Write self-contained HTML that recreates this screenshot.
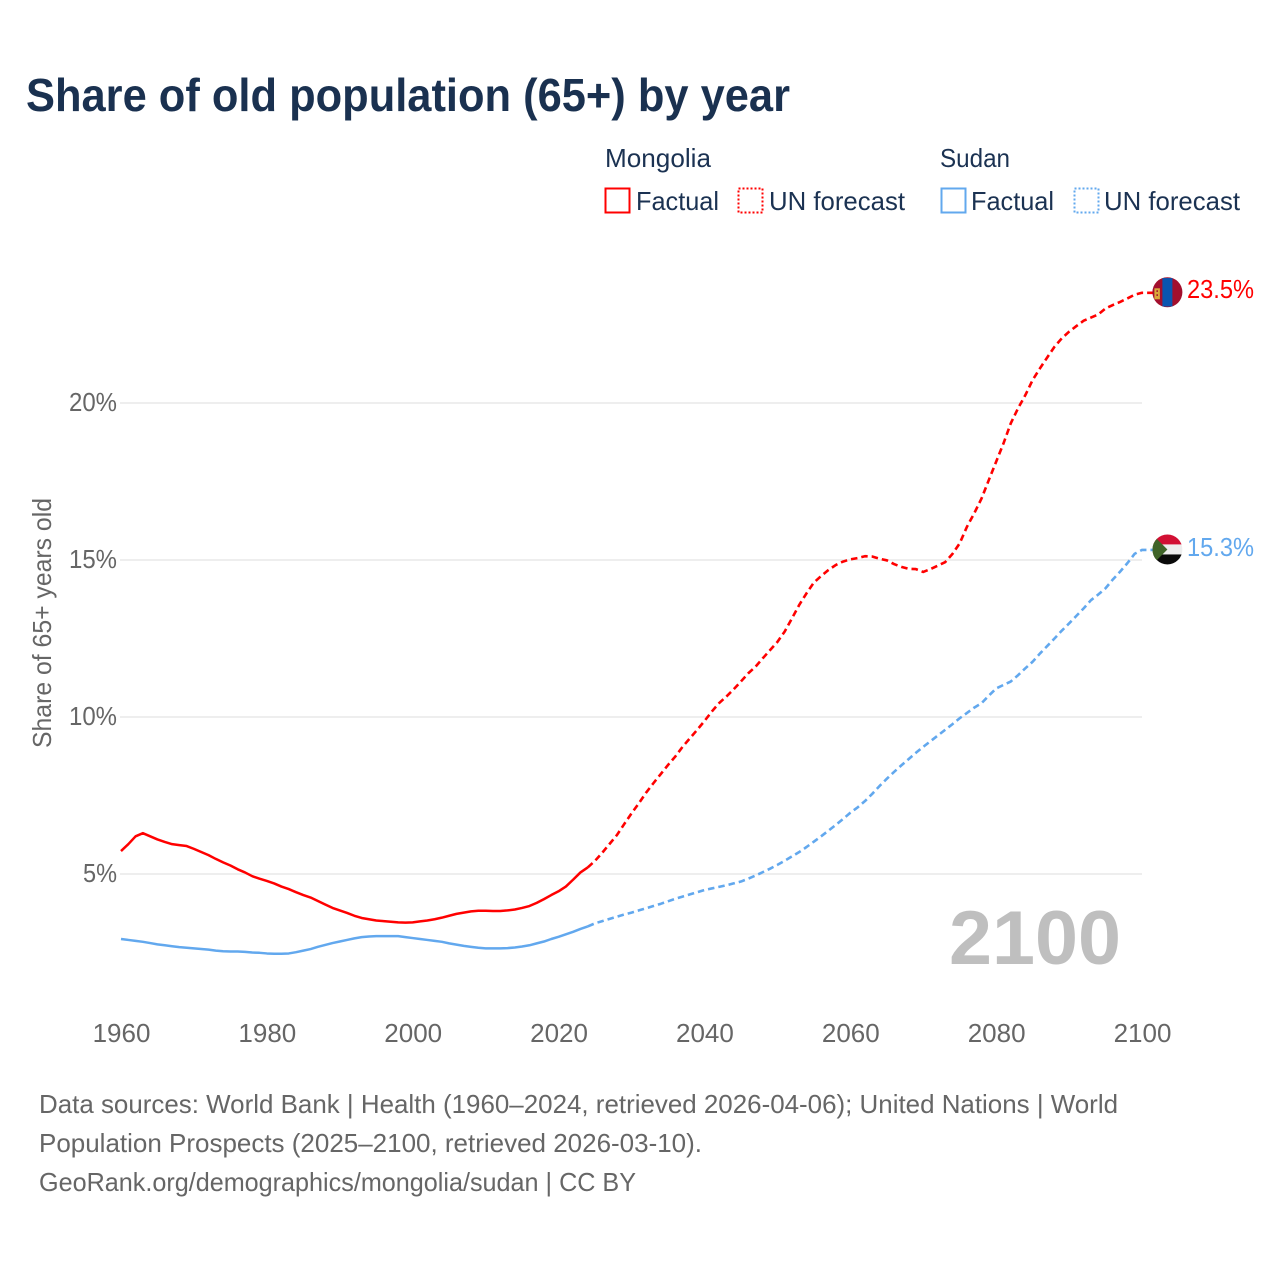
<!DOCTYPE html>
<html lang="en">
<head>
<meta charset="utf-8">
<title>Share of old population (65+) by year</title>
<style>
html,body{margin:0;padding:0;background:#fff;width:1280px;height:1280px;overflow:hidden}
svg{display:block}
text{font-family:"Liberation Sans",sans-serif}
</style>
</head>
<body>
<svg id="chart" xmlns="http://www.w3.org/2000/svg" width="1280" height="1280" viewBox="0 0 1280 1280">
  <rect width="1280" height="1280" fill="#ffffff"/>
  <text x="26" y="111" font-size="46" font-weight="700" fill="#1a3150" textLength="764" lengthAdjust="spacingAndGlyphs">Share of old population (65+) by year</text>

  <g font-size="26" fill="#1b3252">
    <text x="605" y="167" textLength="106" lengthAdjust="spacingAndGlyphs">Mongolia</text>
    <text x="940" y="167" textLength="70" lengthAdjust="spacingAndGlyphs">Sudan</text>
    <rect x="605.5" y="188.5" width="24" height="24" fill="none" stroke="#ff0000" stroke-width="2"/>
    <text x="636" y="210" textLength="83" lengthAdjust="spacingAndGlyphs">Factual</text>
    <rect x="738.5" y="188.5" width="24" height="24" fill="none" stroke="#ff0000" stroke-width="2" stroke-dasharray="2 2"/>
    <text x="769" y="210" textLength="136" lengthAdjust="spacingAndGlyphs">UN forecast</text>
    <rect x="941.5" y="188.5" width="24" height="24" fill="none" stroke="#62a8ee" stroke-width="2"/>
    <text x="971" y="210" textLength="83" lengthAdjust="spacingAndGlyphs">Factual</text>
    <rect x="1074.5" y="188.5" width="24" height="24" fill="none" stroke="#62a8ee" stroke-width="2" stroke-dasharray="2 2"/>
    <text x="1104" y="210" textLength="136" lengthAdjust="spacingAndGlyphs">UN forecast</text>
  </g>

  <g id="grid"></g>
  <g id="yticks" font-size="26" fill="#666666"></g>
  <g id="xticks" font-size="26" fill="#666666"></g>
  <text transform="translate(51,748) rotate(-90)" font-size="26" fill="#666666" textLength="250" lengthAdjust="spacingAndGlyphs">Share of 65+ years old</text>

  <text x="949" y="964" font-size="76" font-weight="700" fill="#bfbfbf" textLength="172" lengthAdjust="spacingAndGlyphs">2100</text>

  <g id="series"></g>
  <g id="ends"></g>

  <g font-size="26" fill="#666666">
    <text x="39" y="1113" textLength="1079" lengthAdjust="spacingAndGlyphs">Data sources: World Bank | Health (1960–2024, retrieved 2026-04-06); United Nations | World</text>
    <text x="39" y="1152" textLength="663" lengthAdjust="spacingAndGlyphs">Population Prospects (2025–2100, retrieved 2026-03-10).</text>
    <text x="39" y="1191" textLength="597" lengthAdjust="spacingAndGlyphs">GeoRank.org/demographics/mongolia/sudan | CC BY</text>
  </g>
</svg>

<script>
const xTickYears = [1960, 1980, 2000, 2020, 2040, 2060, 2080, 2100];
const yTickValues = [5, 10, 15, 20];
const yTickLabels = ["5%", "10%", "15%", "20%"];
const factualStartYear = 1960;
const forecastStartYear = 2025;

const mongoliaFactual = [
  5.73,5.95,6.20,6.30,6.20,6.10,6.02,5.95,5.92,5.89,
  5.80,5.70,5.60,5.48,5.37,5.27,5.15,5.05,4.93,4.85,
  4.78,4.70,4.60,4.52,4.42,4.33,4.25,4.14,4.03,3.92,
  3.84,3.76,3.67,3.60,3.56,3.52,3.50,3.48,3.46,3.45,
  3.46,3.49,3.52,3.56,3.61,3.67,3.73,3.77,3.81,3.83,
  3.83,3.82,3.82,3.84,3.87,3.92,3.98,4.08,4.20,4.33,
  4.45,4.60,4.82,5.05,5.21
];
const mongoliaForecast = [
  5.42,5.68,5.96,6.24,6.59,6.93,7.25,7.59,7.89,8.18,8.47,8.74,9.05,9.32,9.59,
  9.87,10.17,10.44,10.65,10.88,11.13,11.39,11.60,11.87,12.13,12.39,
  12.72,13.14,13.57,13.94,14.28,14.49,14.68,14.84,14.95,15.02,
  15.06,15.12,15.11,15.04,14.99,14.87,14.78,14.72,14.71,14.62,
  14.71,14.82,14.93,15.19,15.53,16.06,16.49,16.96,17.55,18.13,
  18.71,19.35,19.83,20.25,20.73,21.10,21.45,21.79,22.06,22.27,
  22.45,22.62,22.72,22.82,23.01,23.12,23.22,23.33,23.45,23.51
];
const sudanFactual = [
  2.93,2.90,2.87,2.84,2.80,2.76,2.73,2.70,2.67,2.65,
  2.63,2.61,2.59,2.56,2.54,2.53,2.53,2.52,2.50,2.49,
  2.47,2.46,2.46,2.47,2.51,2.56,2.61,2.68,2.74,2.80,
  2.85,2.90,2.95,2.99,3.01,3.02,3.02,3.02,3.02,2.99,
  2.96,2.93,2.90,2.87,2.84,2.79,2.75,2.71,2.68,2.65,
  2.63,2.63,2.63,2.64,2.66,2.69,2.73,2.79,2.85,2.93,
  3.00,3.08,3.16,3.25,3.33
];
const sudanForecast = [
  3.43,3.50,3.57,3.64,3.71,3.77,3.84,3.91,3.98,4.05,4.13,4.21,4.28,4.35,4.42,
  4.49,4.54,4.59,4.64,4.70,4.76,4.85,4.95,5.06,5.17,5.29,
  5.42,5.56,5.70,5.86,6.03,6.20,6.38,6.56,6.75,6.95,
  7.12,7.32,7.55,7.80,8.03,8.25,8.46,8.66,8.86,9.05,
  9.23,9.41,9.59,9.77,9.96,10.13,10.30,10.44,10.68,10.91,
  11.02,11.13,11.33,11.55,11.76,12.02,12.26,12.50,12.75,12.98,
  13.22,13.46,13.72,13.90,14.10,14.38,14.63,14.90,15.20,15.32
];
const endValueLabels = ["23.5%", "15.3%"];

const svgNS = "http://www.w3.org/2000/svg";
function xScale(year) { return 121 + (year - 1960) * (1021 / 140); }
function yScale(value) { return 1031 - value * 31.4; }
function make(parent, tag, attrs) {
  const el = document.createElementNS(svgNS, tag);
  for (const k in attrs) el.setAttribute(k, attrs[k]);
  parent.appendChild(el);
  return el;
}

const gridGroup = document.getElementById("grid");
const yTickGroup = document.getElementById("yticks");
yTickValues.forEach(function (v, i) {
  const line = make(gridGroup, "line", {x1: 120, x2: 1142, y1: yScale(v), y2: yScale(v), stroke: "#eeeeee", "stroke-width": 2});
  
  
  const label = make(yTickGroup, "text", {x: 117, y: yScale(v) + 8, "text-anchor": "end", textLength: yTickLabels[i].length === 2 ? 34 : 48, lengthAdjust: "spacingAndGlyphs"});
  
  
  label.textContent = yTickLabels[i];
});

const xTickGroup = document.getElementById("xticks");
xTickYears.forEach(function (year) {
  const label = make(xTickGroup, "text", {x: xScale(year) + 0.5, y: 1042, "text-anchor": "middle"});
  
  
  label.textContent = String(year);
});

function toPoints(values, startYear) {
  return values.map(function (v, i) { return [xScale(startYear + i), yScale(v)]; });
}
function toPath(points) {
  return points.map(function (p, i) { return (i ? "L" : "M") + p[0].toFixed(2) + " " + p[1].toFixed(2); }).join("");
}

const seriesGroup = document.getElementById("series");
const endGroup = document.getElementById("ends");

function drawSeries(factual, forecast, color) {
  const factualPts = toPoints(factual, factualStartYear);
  const forecastPts = toPoints(forecast, forecastStartYear);
  const lastFactual = factualPts[factualPts.length - 1];
  const lastForecast = forecastPts[forecastPts.length - 1];
  const solid = make(seriesGroup, "path", {d: toPath(factualPts), fill: "none", stroke: color, "stroke-width": 2.5, "stroke-linejoin": "round"});
  
  
  const dashedPts = [lastFactual].concat(forecastPts, [[lastForecast[0] + 25, lastForecast[1]]]);
  const dashed = make(seriesGroup, "path", {d: toPath(dashedPts), fill: "none", stroke: color, "stroke-width": 2.6, "stroke-dasharray": "6.5 4", "stroke-linejoin": "round"});
  
  
  return lastForecast;
}

const mongoliaEnd = drawSeries(mongoliaFactual, mongoliaForecast, "#ff0000");
const sudanEnd = drawSeries(sudanFactual, sudanForecast, "#62a8ee");

/* Mongolia end marker */
const mgFlag = make(endGroup, "g", {transform: "translate(" + (mongoliaEnd[0] + 25.4) + "," + (mongoliaEnd[1] - 0.5) + ")"});


make(mgFlag, "circle", {cx: 0, cy: 0, r: 15, fill: "#a30f2d"});
make(mgFlag, "rect", {x: -5, y: -14.2, width: 10, height: 28.4, fill: "#0a55b0"});
make(mgFlag, "rect", {x: -13, y: -4, width: 5.5, height: 11, fill: "#d9a93a"});
make(mgFlag, "rect", {x: -11, y: -2, width: 1.6, height: 1.6, fill: "#a30f2d"});
make(mgFlag, "rect", {x: -11, y: 2, width: 1.6, height: 1.6, fill: "#a30f2d"});
const mgLabel = make(endGroup, "text", {x: 1187, y: mongoliaEnd[1] + 5, "font-size": 26, fill: "#ff0000", textLength: 67, lengthAdjust: "spacingAndGlyphs"});


mgLabel.textContent = endValueLabels[0];

/* Sudan end marker */
const sdFlag = make(endGroup, "g", {transform: "translate(" + (sudanEnd[0] + 25.4) + "," + (sudanEnd[1] - 0.5) + ")"});


const sdClip = make(sdFlag, "clipPath", {id: "sd-clip"});
make(sdClip, "circle", {cx: 0, cy: 0, r: 15});
const sdBody = make(sdFlag, "g", {"clip-path": "url(#sd-clip)"});
make(sdBody, "rect", {x: -15, y: -15, width: 30, height: 10, fill: "#d21034"});
make(sdBody, "rect", {x: -15, y: -5, width: 30, height: 10, fill: "#eeeeee"});
make(sdBody, "rect", {x: -15, y: 5, width: 30, height: 10, fill: "#0a0a0a"});
make(sdBody, "polygon", {points: "-15,-15 0,0 -15,15", fill: "#3f6428"});
const sdLabel = make(endGroup, "text", {x: 1187, y: sudanEnd[1] + 6, "font-size": 26, fill: "#62a8ee", textLength: 67, lengthAdjust: "spacingAndGlyphs"});


sdLabel.textContent = endValueLabels[1];
</script>
</body>
</html>
